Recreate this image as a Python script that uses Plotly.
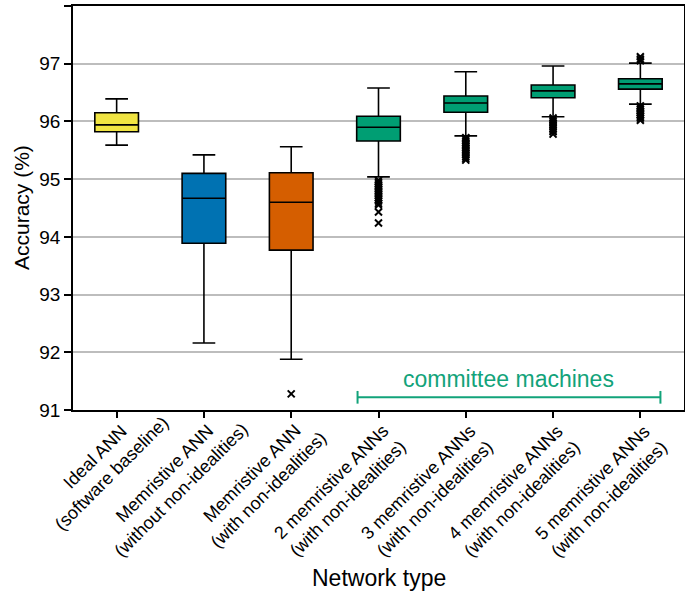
import math
import plotly.graph_objects as go

label_line1 = [
    "Ideal ANN",
    "Memristive ANN",
    "Memristive ANN",
    "2 memristive ANNs",
    "3 memristive ANNs",
    "4 memristive ANNs",
    "5 memristive ANNs",
]
label_line2 = [
    "(software baseline)",
    "(without non-idealities)",
    "(with non-idealities)",
    "(with non-idealities)",
    "(with non-idealities)",
    "(with non-idealities)",
    "(with non-idealities)",
]
lower_whisker = [95.59, 92.16, 91.88, 95.04, 95.75, 96.08, 96.30]
q1 = [95.82, 93.89, 93.77, 95.66, 96.16, 96.41, 96.56]
median = [95.94, 94.67, 94.60, 95.90, 96.32, 96.53, 96.65]
q3 = [96.15, 95.10, 95.11, 96.09, 96.44, 96.63, 96.74]
upper_whisker = [96.39, 95.42, 95.56, 96.58, 96.86, 96.96, 97.01]
colors = ["#F0E442", "#0072B2", "#D55E00", "#009E73", "#009E73", "#009E73", "#009E73"]

outliers = {
    2: [91.28],
    3: [94.98, 94.95, 94.92, 94.89, 94.86, 94.83, 94.80, 94.77, 94.74, 94.71,
        94.68, 94.65, 94.62, 94.58, 94.55, 94.43, 94.24],
    4: [95.72, 95.69, 95.66, 95.63, 95.60, 95.57, 95.54, 95.51, 95.48, 95.45,
        95.42, 95.39, 95.36, 95.33],
    5: [96.06, 96.03, 96.00, 95.97, 95.94, 95.91, 95.88, 95.85, 95.82, 95.78],
    6: [96.27, 96.24, 96.21, 96.18, 96.15, 96.12, 96.09, 96.06, 96.02,
        97.05, 97.08, 97.12],
}

committee_label = "committee machines"
committee_span = [2.76, 6.23]
committee_y = 91.22

FONT = "Liberation Sans, Arial, Helvetica, sans-serif"
LABEL_SIZE = 18

# approximate Arial/Liberation Sans advance widths (em) for label layout
CW = {" ": .278, "(": .333, ")": .333, "-": .333, "A": .667, "N": .722, "M": .833,
      "I": .278, "a": .556, "b": .556, "c": .5, "d": .556, "e": .556, "f": .278,
      "h": .556, "i": .222, "l": .222, "m": .833, "n": .556, "o": .556, "r": .333,
      "s": .5, "t": .278, "u": .556, "v": .5, "w": .722, "2": .556, "3": .556,
      "4": .556, "5": .556}


def text_width(s, size):
    return sum(CW.get(ch, .556) for ch in s) * size


fig = go.Figure()
for i in range(len(q1)):
    fig.add_trace(go.Box(
        x=[i], q1=[q1[i]], median=[median[i]], q3=[q3[i]],
        lowerfence=[lower_whisker[i]], upperfence=[upper_whisker[i]],
        fillcolor=colors[i], line=dict(color="black", width=1.6),
        width=0.5, whiskerwidth=0.52, boxpoints=False, showlegend=False,
        hoverinfo="y",
    ))

for i, vals in outliers.items():
    fig.add_trace(go.Scatter(
        x=[i] * len(vals), y=vals, mode="markers",
        marker=dict(symbol="x-thin", size=7, line=dict(color="black", width=2)),
        showlegend=False,
    ))

green = "#12A37A"
fig.add_trace(go.Scatter(
    x=committee_span, y=[committee_y, committee_y], mode="lines",
    line=dict(color=green, width=2), showlegend=False, hoverinfo="skip",
))
for xv in committee_span:
    fig.add_shape(type="line", x0=xv, x1=xv, xref="x", yref="y",
                  y0=committee_y - 0.11, y1=committee_y + 0.11,
                  line=dict(color=green, width=2))
fig.add_annotation(x=sum(committee_span) / 2, y=committee_y, yshift=3,
                   text=committee_label, showarrow=False, yanchor="bottom",
                   font=dict(size=23, color=green, family=FONT))

# rotated two-line category labels: first line ends just below-right of the tick
c45 = math.cos(math.radians(45))
for i in range(len(label_line1)):
    k = (text_width(label_line1[i], LABEL_SIZE) / 2) * c45
    dx = 15 - k
    dy = 26 + k
    fig.add_annotation(
        x=i, xref="x", y=0, yref="paper", xshift=dx, yshift=-dy,
        text=label_line1[i] + "<br>" + label_line2[i], textangle=-45,
        align="center", xanchor="center", yanchor="middle", showarrow=False,
        font=dict(size=LABEL_SIZE, color="black", family=FONT),
    )

fig.add_annotation(x=(379 - 73) / 611, xref="paper", y=-(578 - 410) / 404, yref="paper",
                   text="Network type", showarrow=False, yanchor="middle",
                   font=dict(size=23, family=FONT, color="black"))
fig.add_annotation(x=-(73 - 21) / 611, xref="paper", y=0.5, yref="paper",
                   text="Accuracy (%)", textangle=-90, showarrow=False,
                   xanchor="center", yanchor="middle",
                   font=dict(size=21, family=FONT, color="black"))

fig.update_layout(
    width=685, height=596,
    margin=dict(l=73, r=1, t=6, b=186),
    plot_bgcolor="white", paper_bgcolor="white",
    font=dict(family=FONT, color="black", size=18),
)

fig.update_xaxes(
    range=[-0.5, 6.5], tickmode="array", tickvals=list(range(7)), ticktext=[""] * 7,
    ticks="outside", ticklen=6, tickwidth=1.5, tickcolor="black",
    showline=True, linecolor="black", linewidth=1.5, mirror=True,
    showgrid=False, zeroline=False, automargin=False,
)
fig.update_yaxes(
    range=[91, 98], dtick=1, ticks="outside", ticklen=7, tickwidth=1.5, tickcolor="black",
    showline=True, linecolor="black", linewidth=1.5, mirror=True,
    showgrid=True, gridcolor="#BDBDBD", gridwidth=1.5, zeroline=False,
    tickfont=dict(size=19), automargin=False,
)

fig.write_html("out.html", config={"displayModeBar": False},
               post_script="document.body.style.margin='0';")
